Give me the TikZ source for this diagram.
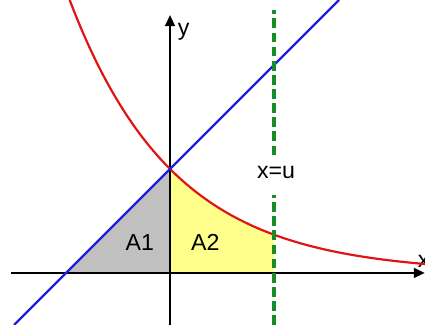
\documentclass[tikz,border=0pt]{standalone}
\usepackage{fontspec}
\setmainfont{Liberation Sans}
\usetikzlibrary{arrows.meta}

\definecolor{areagray}{RGB}{192,192,192}
\definecolor{areayellow}{RGB}{255,255,140}
\definecolor{curvered}{RGB}{225,20,20}
\definecolor{lineblue}{RGB}{30,30,220}
\definecolor{dashgreen}{RGB}{25,140,40}

\begin{document}
\begin{tikzpicture}[x=1.5cm, y=1.5cm, every node/.style={font=\fontsize{9.5}{11}\selectfont},
  axis/.style={-{Triangle[length=4.5pt,width=4pt]}, line width=0.8pt}]
  \useasboundingbox (-1.635,-0.5) rectangle (2.452,2.625);

  % areas
  \fill[areagray] (-1,0) -- (0,1) -- (0,0) -- cycle;
  \fill[areayellow] (0,0) -- plot[domain=0:1, samples=40] (\x,{exp(-\x)}) -- (1,0) -- cycle;

  % axes
  \coordinate (xa) at (-1.53,0);
  \coordinate (xb) at (2.45,0);
  \coordinate (ya) at (0,-0.5);
  \coordinate (yb) at (0,2.48);
  \draw[axis] (xa) -- (xb);
  \draw[axis] (ya) -- (yb);
  \node (ylab) at (0.13,2.32) {y};
  \node (xlab) at (2.44,0.11) {x};

  % curves
  \draw[curvered, line width=0.9pt] plot[domain=-0.965:2.452, samples=80] (\x,{exp(-\x)});
  \coordinate (la) at (-1.5,-0.5);
  \coordinate (lb) at (1.625,2.625);
  \draw[lineblue, line width=0.9pt] (la) -- (lb);

  % x=u
  \coordinate (ua) at (1,-0.5);
  \coordinate (ub) at (1,2.53);
  \draw[dashgreen, line width=1.3pt, dash pattern=on 4pt off 1.8pt] (ua) -- (ub);
  \node[fill=white, inner xsep=1pt, inner ysep=0pt, text height=8.5pt, text depth=6.9pt, anchor=base]
    (ulab) at (1.02,0.913) {x=u};

  \node (a1) at (-0.29,0.29) {A1};
  \node (a2) at (0.34,0.29) {A2};
\end{tikzpicture}
\end{document}
